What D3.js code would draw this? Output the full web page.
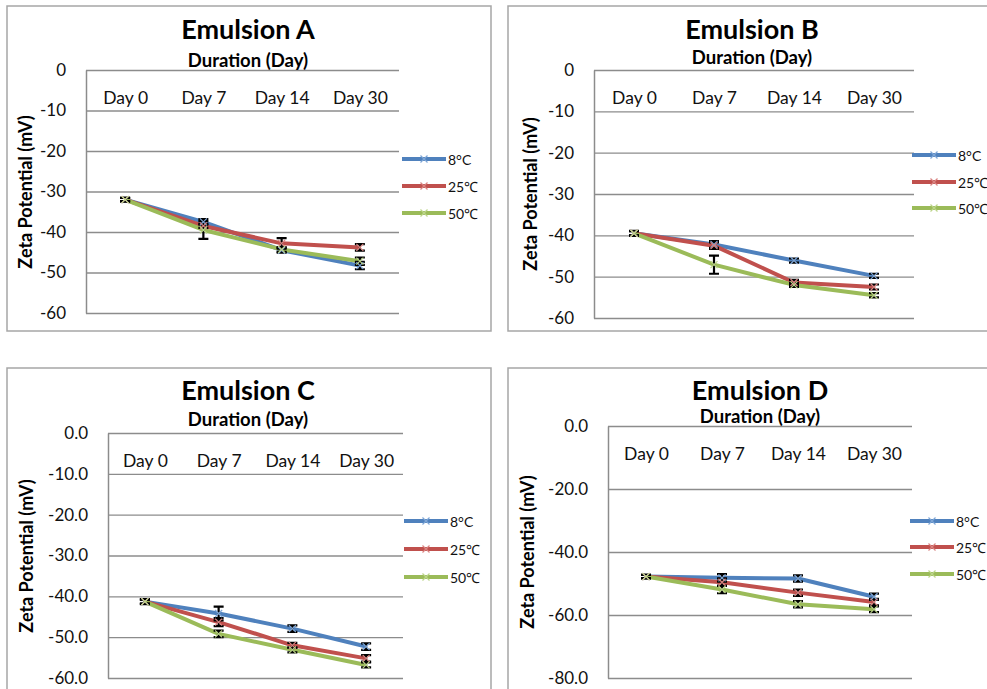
<!DOCTYPE html>
<html>
<head>
<meta charset="utf-8">
<script src="https://cdn.jsdelivr.net/npm/d3@7"></script>
<style>
  body { margin: 0; background: #fff; }
  svg { display: block; font-family: Lato, 'Open Sans', sans-serif; }
</style>
</head>
<body>
<div id="chart"></div>
<script>
const categories = ['Day 0', 'Day 7', 'Day 14', 'Day 30']
const temps = ['8°C', '25℃', '50℃']

const ticksAB = [0, -10, -20, -30, -40, -50, -60]
const ticksC = [0, -10, -20, -30, -40, -50, -60]
const ticksD = [0, -20, -40, -60, -80]

// Emulsion A
const emulsionA8 = [-32, -37.5, -44.5, -48.3]
const emulsionA25 = [-32, -38.5, -42.8, -43.8]
const emulsionA50 = [-32, -39.5, -44.3, -47.2]
const errA8 = [0.5, 0.7, 0.6, 0.9]
const errA25 = [0.4, 0.5, 1.3, 0.8]
const errA50 = [0.4, 2.2, 0.6, 0.9]

// Emulsion B
const emulsionB8 = [-39.5, -42.2, -46.1, -49.8]
const emulsionB25 = [-39.5, -42.5, -51.4, -52.5]
const emulsionB50 = [-39.5, -47.1, -52.0, -54.5]
const errB8 = [0.6, 0.8, 0.5, 0.5]
const errB25 = [0.5, 0.8, 0.6, 0.6]
const errB50 = [0.5, 2.2, 0.5, 0.5]

// Emulsion C
const emulsionC8 = [-41.3, -44.2, -47.9, -52.3]
const emulsionC25 = [-41.3, -46.3, -52.0, -55.2]
const emulsionC50 = [-41.3, -49.2, -53.1, -56.8]
const errC8 = [0.6, 1.7, 0.8, 0.8]
const errC25 = [0.5, 1.0, 0.6, 0.8]
const errC50 = [0.5, 0.8, 0.6, 0.6]

// Emulsion D
const emulsionD8 = [-47.8, -48.2, -48.4, -54.2]
const emulsionD25 = [-47.8, -49.6, -52.9, -55.9]
const emulsionD50 = [-47.8, -51.9, -56.6, -58.2]
const errD8 = [0.6, 1.2, 1.0, 1.0]
const errD25 = [0.5, 1.2, 1.0, 1.0]
const errD50 = [0.5, 1.2, 1.0, 0.9]

const colors = ['#4F81BD', '#C0504D', '#9BBB59']
const markerColors = ['#7FA6D6', '#D98583', '#BCD58A']

const width = 987
const height = 689

// plain hyphen for negative numbers, like the original
const locale = d3.formatLocale({ decimal: '.', thousands: ',', grouping: [3], currency: ['', ''], minus: '-' })

const svg = d3.select('#chart').append('svg')
    .attr('width', width)
    .attr('height', height)

svg.append('rect')
    .attr('width', width)
    .attr('height', height)
    .attr('fill', '#fff')

/*
 * Panel layout: border box, plot area, and where the texts sit.
 */
const panels = [
    { title: 'Emulsion A', box: [7, 6, 484, 325], left: 86, right: 399, top: 70, bottom: 313,
      ticks: ticksAB, fmt: locale.format('d'), titleX: 248, titleY: 28, subY: 60, catY: 98,
      yTitleX: 25, yTitleY: 192, legendX: 402, legendY: [159, 186, 213],
      series: [emulsionA8, emulsionA25, emulsionA50], errors: [errA8, errA25, errA50] },
    { title: 'Emulsion B', box: [508, 6, 500, 325], left: 594, right: 914, top: 70, bottom: 318,
      ticks: ticksAB, fmt: locale.format('d'), titleX: 752, titleY: 28, subY: 57, catY: 98,
      yTitleX: 530, yTitleY: 194, legendX: 912, legendY: [155, 182, 208],
      series: [emulsionB8, emulsionB25, emulsionB50], errors: [errB8, errB25, errB50] },
    { title: 'Emulsion C', box: [7, 368, 484, 340], left: 108, right: 403, top: 433, bottom: 678,
      ticks: ticksC, fmt: locale.format('.1f'), titleX: 248, titleY: 389, subY: 419, catY: 461,
      yTitleX: 26, yTitleY: 556, legendX: 404, legendY: [521, 549, 577],
      series: [emulsionC8, emulsionC25, emulsionC50], errors: [errC8, errC25, errC50] },
    { title: 'Emulsion D', box: [508, 368, 500, 340], left: 608, right: 912, top: 426, bottom: 678,
      ticks: ticksD, fmt: locale.format('.1f'), titleX: 760, titleY: 389, subY: 416, catY: 454,
      yTitleX: 527, yTitleY: 552, legendX: 910, legendY: [521, 547, 574],
      series: [emulsionD8, emulsionD25, emulsionD50], errors: [errD8, errD25, errD50] }
]

const crossPath = 'M-3.5,-3.5L3.5,3.5M-3.5,3.5L3.5,-3.5'

panels.forEach(function(p) {
    const g = svg.append('g')

    g.append('rect')
        .attr('x', p.box[0])
        .attr('y', p.box[1])
        .attr('width', p.box[2])
        .attr('height', p.box[3])
        .attr('fill', '#fff')
        .attr('stroke', '#A6A6A6')
        .attr('stroke-width', 1.5)

    /*
     * X and Y scales.
     */
    const xScale = d3.scalePoint()
        .domain(categories)
        .range([p.left, p.right])
        .padding(0.5)

    const yScale = d3.scaleLinear()
        .domain([d3.min(p.ticks), d3.max(p.ticks)])
        .range([p.bottom, p.top])

    // y axis with gridlines
    const yAxis = d3.axisLeft(yScale)
        .tickValues(p.ticks)
        .tickFormat(p.fmt)
        .tickSize(-(p.right - p.left))
        .tickSizeOuter(0)
        .tickPadding(20)

    const ya = g.append('g')
        .attr('transform', `translate(${p.left},0)`)
        .call(yAxis)
    ya.selectAll('line').attr('stroke', '#8C8C8C').attr('stroke-width', 1.3)
    ya.select('.domain').attr('stroke', '#8C8C8C').attr('stroke-width', 1.5)
    ya.selectAll('text')
        .attr('fill', '#111')
        .style('font-size', '17px')
        .style('font-family', 'Lato, sans-serif')

    // category labels along the top
    const xAxis = d3.axisTop(xScale).tickSize(0).tickPadding(0)
    const xa = g.append('g')
        .attr('transform', `translate(0,${p.catY + 6})`)
        .call(xAxis)
    xa.select('.domain').remove()
    xa.selectAll('text')
        .attr('fill', '#111')
        .style('font-size', '17.5px')
        .style('font-family', 'Lato, sans-serif')

    // titles
    g.append('text')
        .attr('x', p.titleX)
        .attr('y', p.titleY)
        .attr('text-anchor', 'middle')
        .attr('dominant-baseline', 'central')
        .style('font-size', '27px')
        .style('font-weight', 'bold')
        .text(p.title)

    g.append('text')
        .attr('x', p.titleX)
        .attr('y', p.subY)
        .attr('text-anchor', 'middle')
        .attr('dominant-baseline', 'central')
        .style('font-size', '18.5px')
        .style('font-weight', 'bold')
        .text('Duration (Day)')

    g.append('text')
        .attr('transform', `translate(${p.yTitleX},${p.yTitleY}) rotate(-90)`)
        .attr('text-anchor', 'middle')
        .attr('dominant-baseline', 'central')
        .style('font-size', '18px')
        .style('font-weight', 'bold')
        .text('Zeta Potential (mV)')

    /*
     * Lines, error bars and markers.
     */
    const line = d3.line()
        .x((d, i) => xScale(categories[i]))
        .y(d => yScale(d))

    p.series.forEach(function(s, k) {
        g.append('path')
            .datum(s)
            .attr('d', line)
            .style('fill', 'none')
            .style('stroke', colors[k])
            .style('stroke-width', 4)
            .style('stroke-linejoin', 'round')
    })

    p.series.forEach(function(s, k) {
        const errs = p.errors[k]
        s.forEach(function(v, i) {
            const cx = xScale(categories[i])
            const y1 = yScale(v + errs[i])
            const y2 = yScale(v - errs[i])
            g.append('path')
                .attr('d', `M${cx},${y1}L${cx},${y2}M${cx - 5},${y1}L${cx + 5},${y1}M${cx - 5},${y2}L${cx + 5},${y2}`)
                .style('fill', 'none')
                .style('stroke', '#000')
                .style('stroke-width', 2.2)
        })
    })

    p.series.forEach(function(s, k) {
        g.selectAll(null)
            .data(s)
            .enter()
            .append('path')
            .attr('d', crossPath)
            .attr('transform', (d, i) => `translate(${xScale(categories[i])},${yScale(d)})`)
            .style('fill', 'none')
            .style('stroke', markerColors[k])
            .style('stroke-width', 1.2)
    })

    /*
     * Legend.
     */
    temps.forEach(function(t, k) {
        const ly = p.legendY[k]
        g.append('line')
            .attr('x1', p.legendX)
            .attr('x2', p.legendX + 44)
            .attr('y1', ly)
            .attr('y2', ly)
            .style('stroke', colors[k])
            .style('stroke-width', 4)
        g.append('path')
            .attr('d', crossPath)
            .attr('transform', `translate(${p.legendX + 22},${ly})`)
            .style('fill', 'none')
            .style('stroke', markerColors[k])
            .style('stroke-width', 1.2)
        g.append('text')
            .attr('x', p.legendX + 46)
            .attr('y', ly)
            .attr('dominant-baseline', 'central')
            .attr('fill', '#111')
            .style('font-size', '14px')
            .text(t)
    })
})
</script>
</body>
</html>
